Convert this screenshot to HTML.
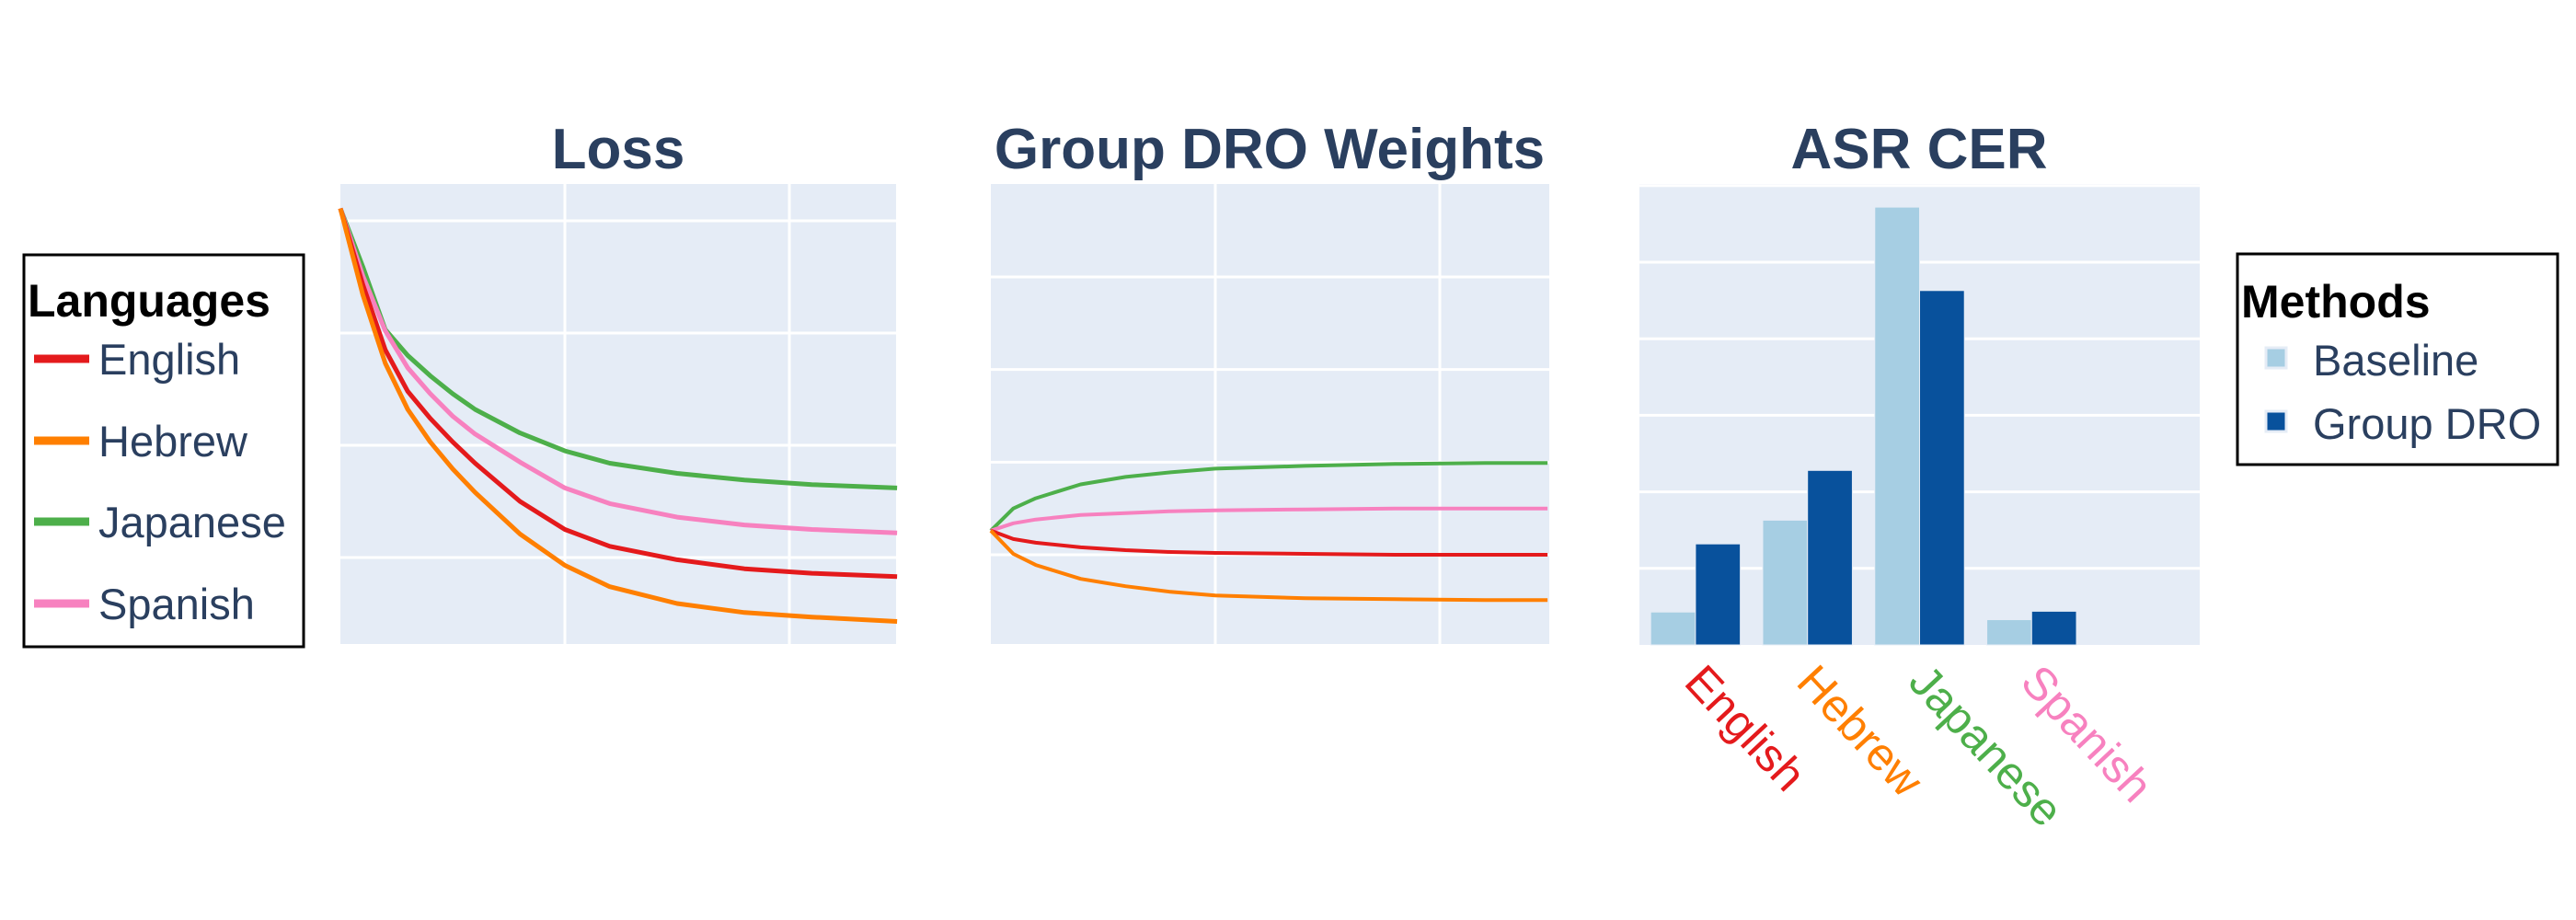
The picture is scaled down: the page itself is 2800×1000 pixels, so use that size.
<!DOCTYPE html>
<html><head><meta charset="utf-8"><style>
html,body{margin:0;padding:0;background:#fff;}
svg{display:block;font-family:"Liberation Sans",sans-serif;}
</style></head><body>
<svg id="fig" width="2800" height="1000" viewBox="0 0 2800 1000" xmlns="http://www.w3.org/2000/svg">
<rect width="2800" height="1000" fill="#fff"/>
<g id="loss"></g>
<g id="dro"></g>
<g id="cer"></g>
<text x="672" y="183" text-anchor="middle" font-size="62" font-weight="bold" fill="#2a3f5f">Loss</text>
<text x="1380" y="183" text-anchor="middle" font-size="62" font-weight="bold" fill="#2a3f5f">Group DRO Weights</text>
<text x="2086" y="183" text-anchor="middle" font-size="62" font-weight="bold" fill="#2a3f5f">ASR CER</text>
<g>
<rect x="26" y="277" width="304" height="426" fill="#fff" stroke="#000" stroke-width="3"/>
<text x="30" y="344" font-size="50" font-weight="bold" fill="#000">Languages</text>
<g><line x1="37" y1="390" x2="97" y2="390" stroke="#e41a1c" stroke-width="9"/><text x="107" y="407" font-size="47" fill="#2a3f5f">English</text></g>
<g><line x1="37" y1="479" x2="97" y2="479" stroke="#ff7f00" stroke-width="9"/><text x="107" y="496" font-size="47" fill="#2a3f5f">Hebrew</text></g>
<g><line x1="37" y1="567" x2="97" y2="567" stroke="#4daf4a" stroke-width="9"/><text x="107" y="584" font-size="47" fill="#2a3f5f">Japanese</text></g>
<g><line x1="37" y1="656" x2="97" y2="656" stroke="#f781bf" stroke-width="9"/><text x="107" y="673" font-size="47" fill="#2a3f5f">Spanish</text></g>
</g>
<g>
<rect x="2432" y="276" width="348" height="229" fill="#fff" stroke="#000" stroke-width="3"/>
<text x="2436" y="345" font-size="50" font-weight="bold" fill="#000">Methods</text>
<g><rect x="2463" y="378" width="22" height="22" fill="#a6cee3" stroke="#e5ecf6" stroke-width="3"/><text x="2514" y="408" font-size="47" fill="#2a3f5f">Baseline</text></g>
<g><rect x="2463" y="447" width="22" height="22" fill="#08519c" stroke="#e5ecf6" stroke-width="3"/><text x="2514" y="477" font-size="47" fill="#2a3f5f">Group DRO</text></g>
</g>
</svg>
<script>
// ---- Loss data ----
const lossSteps = [0,100,200,300,400,500,600,800,1000,1200,1500,1800,2100,2480];
const lossEnglish  = [5.11,4.43,3.85,3.48,3.24,3.03,2.84,2.50,2.25,2.10,1.98,1.90,1.86,1.83];
const lossHebrew   = [5.11,4.34,3.73,3.32,3.03,2.79,2.58,2.21,1.93,1.74,1.59,1.51,1.47,1.43];
const lossJapanese = [5.11,4.59,4.03,3.80,3.62,3.46,3.32,3.11,2.95,2.84,2.75,2.69,2.65,2.62];
const lossSpanish  = [5.11,4.51,4.02,3.69,3.46,3.26,3.10,2.85,2.62,2.48,2.36,2.29,2.25,2.22];
const lossYTicks = [2,3,4,5];
const xTicks = [1000,2000];
// ---- DRO weights data ----
const droSteps = [0,100,200,400,600,800,1000,1400,1800,2200,2480];
const droEnglish  = [0.126,0.117,0.113,0.108,0.105,0.103,0.102,0.101,0.100,0.100,0.100];
const droHebrew   = [0.126,0.101,0.089,0.074,0.066,0.060,0.056,0.053,0.052,0.051,0.051];
const droJapanese = [0.126,0.150,0.161,0.176,0.184,0.189,0.193,0.196,0.198,0.199,0.199];
const droSpanish  = [0.126,0.134,0.138,0.143,0.145,0.147,0.148,0.149,0.150,0.150,0.150];
const droYTicks = [0.1,0.2,0.3,0.4];
// ---- CER data ----
const cerCategories = ["English","Hebrew","Japanese","Spanish"];
const cerBaseline = [0.43,1.63,5.72,0.33];
const cerGroupDRO = [1.32,2.28,4.63,0.44];
const cerYTicks = [1,2,3,4,5,6];

const NS="http://www.w3.org/2000/svg";
const colors={English:"#e41a1c",Hebrew:"#ff7f00",Japanese:"#4daf4a",Spanish:"#f781bf"};
function mk(tag,attrs,parent){const e=document.createElementNS(NS,tag);for(const k in attrs)e.setAttribute(k,attrs[k]);parent.appendChild(e);return e;}
function lin(d0,d1,r0,r1){return v=>r0+(v-d0)/(d1-d0)*(r1-r0);}

function linePanel(gid,L,R,T,B,xs,ys,yTicks,series){
  const g=document.getElementById(gid);
  const bg=mk("rect",{x:L,y:T,width:R-L,height:B-T,fill:"#e5ecf6"},g);
  
  
  xTicks.forEach(t=>{const l=mk("line",{x1:xs(t),x2:xs(t),y1:T,y2:B,stroke:"#fff","stroke-width":3},g);
    
    });
  yTicks.forEach(t=>{const l=mk("line",{x1:L,x2:R,y1:ys(t),y2:ys(t),stroke:"#fff","stroke-width":3},g);
    
    });
  series.forEach(s=>{
    const d=s.steps.map((st,i)=>(i?"L":"M")+xs(st).toFixed(1)+","+ys(s.vals[i]).toFixed(1)).join(" ");
    const p=mk("path",{d:d,fill:"none",stroke:colors[s.name],"stroke-width":s.w,"stroke-linejoin":"round"},g);
    
    
  });
}
// Loss panel
linePanel("loss",370,974,200,700,lin(0,1000,370,614),lin(5,4,240,362),lossYTicks,[
  {name:"Japanese",steps:lossSteps,vals:lossJapanese,w:5},
  {name:"Spanish",steps:lossSteps,vals:lossSpanish,w:5},
  {name:"English",steps:lossSteps,vals:lossEnglish,w:5},
  {name:"Hebrew",steps:lossSteps,vals:lossHebrew,w:5}]);
// DRO panel
linePanel("dro",1077,1684,200,700,lin(0,1000,1077,1321),lin(0.1,0.4,603,301),droYTicks,[
  {name:"Japanese",steps:droSteps,vals:droJapanese,w:4},
  {name:"Spanish",steps:droSteps,vals:droSpanish,w:4},
  {name:"English",steps:droSteps,vals:droEnglish,w:4},
  {name:"Hebrew",steps:droSteps,vals:droHebrew,w:4}]);
// CER panel
(function(){
  const g=document.getElementById("cer");
  const L=1782,R=2391,T=200,B=701;
  const ys=lin(0,1,B,B-83.2);
  const slot=(R-L)/5;
  const bg=mk("rect",{x:L,y:T,width:R-L,height:B-T,fill:"#e5ecf6"},g);
  
  
  cerYTicks.forEach(t=>{const l=mk("line",{x1:L,x2:R,y1:ys(t),y2:ys(t),stroke:"#fff","stroke-width":3},g);
    
    });
  const bw=slot*0.8/2;
  cerCategories.forEach((c,i)=>{
    const cx=L+slot*(i+0.5);
    const b1=mk("rect",{x:cx-bw,y:ys(cerBaseline[i]),width:bw,height:B-ys(cerBaseline[i]),fill:"#a6cee3",stroke:"#e5ecf6","stroke-width":1},g);
    
    
    const b2=mk("rect",{x:cx,y:ys(cerGroupDRO[i]),width:bw,height:B-ys(cerGroupDRO[i]),fill:"#08519c",stroke:"#e5ecf6","stroke-width":1},g);
    
    
    const t=mk("text",{x:0,y:0,"font-size":50,fill:colors[c],transform:"translate("+(cx-14)+","+(B+42)+") rotate(47)"},g);
    t.textContent=c;
    
    
  });
})();
</script>
</body></html>
